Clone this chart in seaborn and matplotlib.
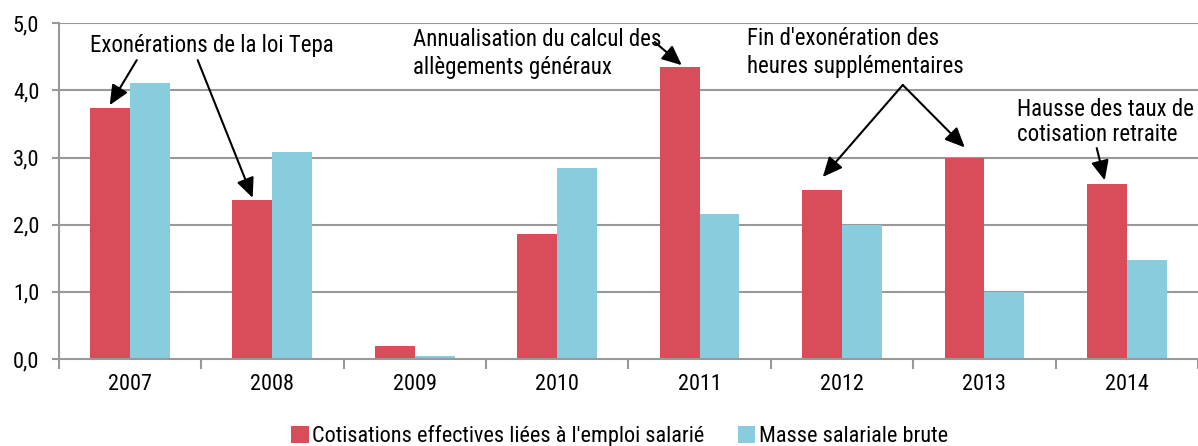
import matplotlib
matplotlib.use("Agg")
import matplotlib.pyplot as plt
import seaborn as sns
import numpy as np
import pandas as pd
from matplotlib.ticker import FuncFormatter, MultipleLocator

years = ["2007", "2008", "2009", "2010", "2011", "2012", "2013", "2014"]
cotisations = [3.73, 2.37, 0.19, 1.86, 4.35, 2.52, 3.0, 2.61]
masse_salariale = [4.11, 3.08, 0.04, 2.84, 2.16, 2.0, 1.0, 1.48]
series_names = ["Cotisations effectives liées à l'emploi salarié", "Masse salariale brute"]
colors = ["#D94C5A", "#89CCDD"]

df = pd.DataFrame({
    "annee": years * 2,
    "valeur": cotisations + masse_salariale,
    "serie": [series_names[0]] * len(years) + [series_names[1]] * len(years),
})

sns.set_theme(style="white")
plt.rcParams["font.family"] = ["Liberation Sans Narrow", "Roboto Condensed", "Archivo Narrow", "DejaVu Sans"]
plt.rcParams["text.color"] = "black"

fig = plt.figure(figsize=(11.98, 4.46), dpi=100)
ax = fig.add_axes([0.049, 0.195, 0.951, 0.753])

sns.barplot(data=df, x="annee", y="valeur", hue="serie", palette=colors,
            width=0.56, saturation=1, linewidth=0, ax=ax, legend=True)

ax.set_xlim(-0.5, 7.5)
ax.set_ylim(0, 5)
ax.set_xlabel("")
ax.set_ylabel("")

grid_color = "#999999"
ax.yaxis.set_major_locator(MultipleLocator(1))
ax.yaxis.set_major_formatter(FuncFormatter(lambda v, p: f"{v:.1f}".replace(".", ",")))
for v in range(1, 6):
    ax.axhline(v, color=grid_color, lw=1.5, zorder=0)

for s in ["top", "right"]:
    ax.spines[s].set_visible(False)
for s in ["left", "bottom"]:
    ax.spines[s].set_color(grid_color)
    ax.spines[s].set_linewidth(1.5)

ax.set_xticks(np.arange(-0.5, 8.0, 1.0), minor=True)
ax.tick_params(axis="x", which="major", length=0, labelsize=16, pad=11, labelcolor="black")
ax.tick_params(axis="x", which="minor", length=7, width=1.5, color=grid_color, direction="out", bottom=True)
ax.tick_params(axis="y", length=5, width=1.5, color=grid_color, direction="out", left=True,
               labelsize=16, pad=9, labelcolor="black")

arrow = dict(arrowstyle="-|>,head_length=1.0,head_width=0.45", color="black", lw=1.5, shrinkA=0, shrinkB=0)
fs = 16.5

ax.text(0.574, 4.67, "Exonérations de la loi Tepa", ha="center", va="center", fontsize=fs)
ax.annotate("", xy=(-0.142, 3.78), xytext=(0.048, 4.45), arrowprops=arrow)
ax.annotate("", xy=(0.862, 2.40), xytext=(0.476, 4.45), arrowprops=arrow)

ax.text(1.986, 4.55, "Annualisation du calcul des\nallègements généraux", ha="left", va="center",
        fontsize=fs, linespacing=1.28)
ax.annotate("", xy=(3.875, 4.375), xytext=(3.685, 4.72), arrowprops=arrow)

ax.text(4.331, 4.56, "Fin d'exonération des\nheures supplémentaires", ha="left", va="center",
        fontsize=fs, linespacing=1.26)
ax.annotate("", xy=(4.865, 2.71), xytext=(5.427, 4.08), arrowprops=arrow)
ax.annotate("", xy=(5.862, 3.15), xytext=(5.427, 4.08), arrowprops=arrow)

ax.text(6.227, 3.53, "Hausse des taux de\ncotisation retraite", ha="left", va="center",
        fontsize=16.5, linespacing=1.15)
ax.annotate("", xy=(6.845, 2.66), xytext=(6.789, 3.14), arrowprops=arrow)

handles, labels = ax.get_legend_handles_labels()
ax.get_legend().remove()
fig.legend(handles, labels, loc="center", bbox_to_anchor=(0.517, 0.022), ncol=2, frameon=False,
           fontsize=16, handlelength=0.8, handleheight=0.8, handletextpad=0.15, columnspacing=1.5)

fig.savefig("out.png", dpi=100)
